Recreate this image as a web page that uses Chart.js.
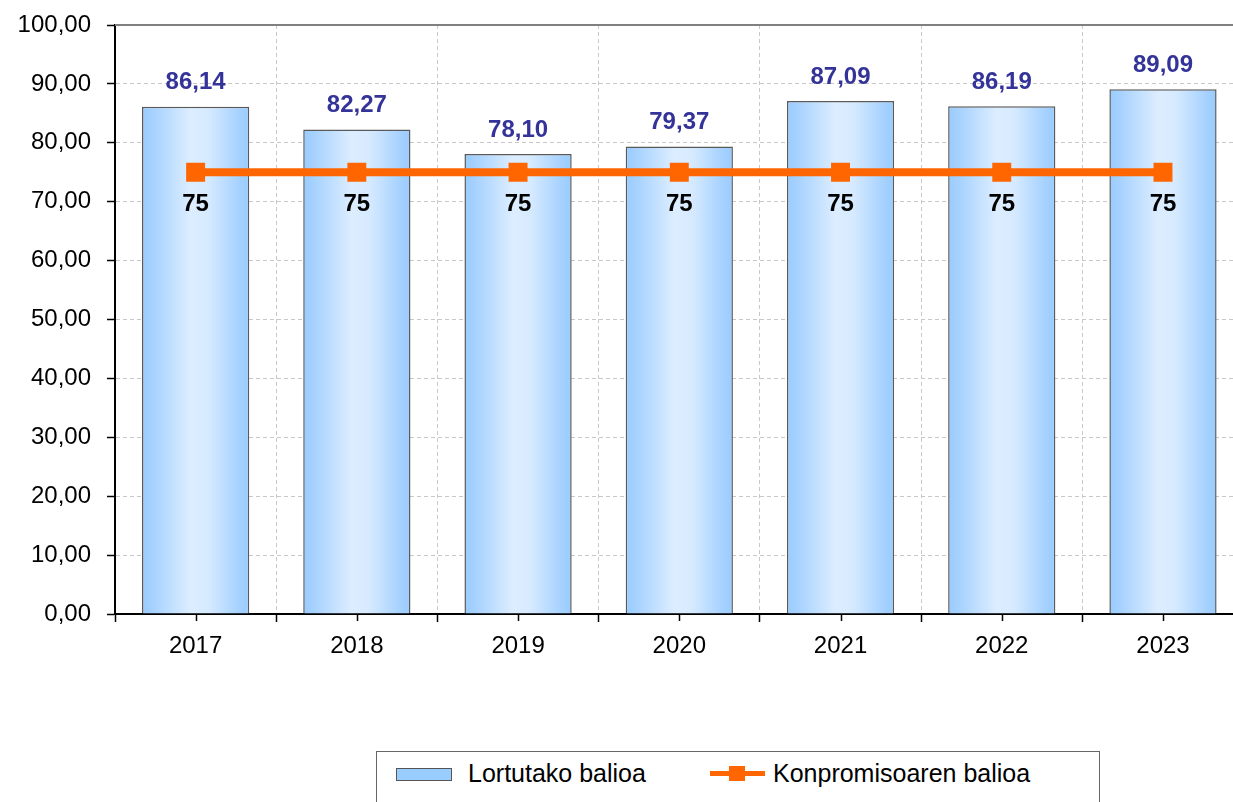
<!DOCTYPE html>
<html>
<head>
<meta charset="utf-8">
<script src="https://cdn.jsdelivr.net/npm/chart.js@4.4.1/dist/chart.umd.min.js"></script>
<style>
  html, body { margin: 0; padding: 0; background: #fff; overflow: hidden; width: 1233px; height: 802px; }
  #wrap { position: absolute; left: 0; top: 0; width: 1257px; height: 700px; }
  #legend { position: absolute; left: 376px; top: 751px; width: 724px; height: 70px;
            border: 1px solid #666; box-sizing: border-box; font-family: "Liberation Sans", Arial, sans-serif;
            font-size: 25px; color: #000; }
  .sw-bar { position: absolute; left: 19px; top: 16px; width: 54px; height: 11px; background: #99CCFF; border: 1px solid #555; }
  .sw-line { position: absolute; left: 333px; top: 19px; width: 55px; height: 5px; background: #FF6600; }
  .sw-pt { position: absolute; left: 352px; top: 14px; width: 16px; height: 15px; background: #FF6600; }
  .lt { position: absolute; top: 9px; line-height: 25px; white-space: nowrap; }
</style>
</head>
<body>
<div id="wrap"><canvas id="c" width="1257" height="700" style="width:1257px;height:700px"></canvas></div>
<div id="legend">
  <div class="sw-bar"></div><div class="lt" style="left:91px">Lortutako balioa</div>
  <div class="sw-line"></div><div class="sw-pt"></div><div class="lt" style="left:396px">Konpromisoaren balioa</div>
</div>
<script>
/* datuak */
const years      = ['2017', '2018', '2019', '2020', '2021', '2022', '2023'];
const lortutakoa = [86.14, 82.27, 78.10, 79.37, 87.09, 86.19, 89.09];
const konpromisoa = [75, 75, 75, 75, 75, 75, 75];
const yTicks     = [0, 10, 20, 30, 40, 50, 60, 70, 80, 90, 100];

const BAR_PCT = 0.665;
const FONT = '"Liberation Sans", Arial, sans-serif';
const fmt = v => v.toFixed(2).replace('.', ',');

/* barra bakoitzari gradiente horizontala */
function barFill(c) {
  const chart = c.chart;
  const xs = chart.scales.x;
  if (!xs || !chart.chartArea || c.dataIndex === undefined) return '#99CCFF';
  const cx = xs.getPixelForValue(c.dataIndex);
  const half = (chart.chartArea.width / years.length) * BAR_PCT / 2;
  const g = chart.ctx.createLinearGradient(cx - half, 0, cx + half, 0);
  g.addColorStop(0, '#99CCFF');
  g.addColorStop(0.08, '#A3D0FF');
  g.addColorStop(0.45, '#DCEDFF');
  g.addColorStop(0.62, '#D6EAFF');
  g.addColorStop(0.92, '#A3D0FF');
  g.addColorStop(1, '#99CCFF');
  return g;
}

/* markoa, erdiko tick-ak eta etiketak */
const extras = {
  id: 'extras',
  beforeDatasetsDraw(chart) {
    const { ctx, chartArea: a } = chart;
    ctx.save();
    ctx.strokeStyle = '#808080';
    ctx.lineWidth = 2;
    ctx.beginPath();
    ctx.moveTo(a.left, a.top); ctx.lineTo(a.right, a.top); ctx.lineTo(a.right, a.bottom);
    ctx.stroke();
    // erdiko tick txikiak
    const xs = chart.scales.x;
    ctx.strokeStyle = '#000';
    ctx.lineWidth = 1.5;
    years.forEach((_, i) => {
      const x = Math.round(xs.getPixelForValue(i)) + 0.5;
      ctx.beginPath(); ctx.moveTo(x, a.bottom); ctx.lineTo(x, a.bottom + 7); ctx.stroke();
    });
    ctx.restore();
  },
  afterDatasetsDraw(chart) {
    const { ctx } = chart;
    ctx.save();
    ctx.textAlign = 'center';
    ctx.textBaseline = 'middle';
    ctx.font = 'bold 24px ' + FONT;
    ctx.fillStyle = '#333399';
    chart.getDatasetMeta(0).data.forEach((el, i) => {
      ctx.fillText(fmt(lortutakoa[i]), el.x, el.y - 24);
    });
    ctx.fillStyle = '#000';
    chart.getDatasetMeta(1).data.forEach((el, i) => {
      ctx.fillText(String(konpromisoa[i]), el.x, el.y + 32);
    });
    ctx.restore();
  }
};

new Chart(document.getElementById('c'), {
  data: {
    labels: years,
    datasets: [
      {
        type: 'bar', label: 'Lortutako balioa', data: lortutakoa, order: 1,
        backgroundColor: barFill, borderColor: '#5a5a5a', borderWidth: 1.5,
        barPercentage: BAR_PCT, categoryPercentage: 1,
      },
      {
        type: 'line', label: 'Konpromisoaren balioa', data: konpromisoa, order: 0,
        borderColor: '#FF6600', backgroundColor: '#FF6600', borderWidth: 8,
        pointStyle: 'rect', pointRadius: 13.4, pointBorderWidth: 0, tension: 0, fill: false,
      },
    ],
  },
  options: {
    responsive: false, animation: false, devicePixelRatio: 1,
    layout: { padding: { top: 25, right: 0, left: 0, bottom: 0 } },
    plugins: { legend: { display: false }, tooltip: { enabled: false } },
    scales: {
      x: {
        offset: true,
        grid: { offset: true, color: '#c8c8c8', lineWidth: 1, tickColor: '#000', tickWidth: 1.5, tickLength: 8 },
        border: { color: '#000', width: 2, dash: [4, 3] },
        ticks: { color: '#000', font: { family: FONT, size: 24 }, padding: 10 },
        afterFit: s => { s.height = 86; s.paddingLeft = 0; s.paddingRight = 0; },
      },
      y: {
        min: 0, max: 100,
        afterBuildTicks: s => { s.ticks = yTicks.map(v => ({ value: v })); },
        grid: { color: '#c8c8c8', lineWidth: 1, tickColor: '#000', tickWidth: 1.5, tickLength: 8 },
        border: { color: '#000', width: 2, dash: [4, 3] },
        ticks: { color: '#000', font: { family: FONT, size: 24 }, padding: 16, callback: v => fmt(v) },
        afterFit: s => { s.width = 115; s.paddingTop = 0; s.paddingBottom = 0; },
      },
    },
  },
  plugins: [extras],
});
</script>
</body>
</html>
